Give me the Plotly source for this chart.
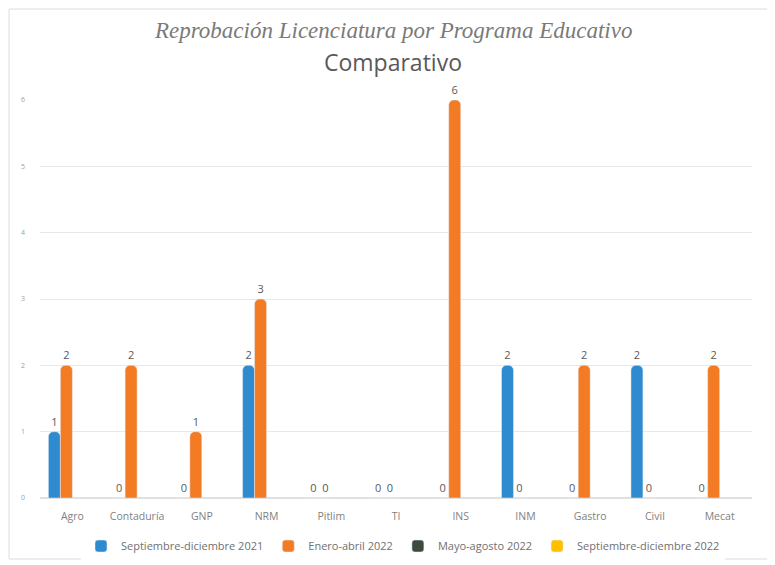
import plotly.graph_objects as go

categories = ["Agro", "Contaduría", "GNP", "NRM", "Pitlim", "TI", "INS", "INM", "Gastro", "Civil", "Mecat"]
series_names = ["Septiembre-diciembre 2021", "Enero-abril 2022", "Mayo-agosto 2022", "Septiembre-diciembre 2022"]
sep_dic_2021 = [1, 0, 0, 2, 0, 0, 0, 2, 0, 2, 0]
ene_abr_2022 = [2, 2, 1, 3, 0, 0, 6, 0, 2, 0, 2]
may_ago_2022 = [None] * 11
sep_dic_2022 = [None] * 11
colors = ["#2E8BCF", "#F27B24", "#3E4A3E", "#FFC000"]

# plot area in figure pixels
L, R, T, B = 32, 744, 92, 490
W, H = R - L, B - T


def px(x):
    return (x - L) / W


def py(y):
    return (B - y) / H


fig = go.Figure()
for name, vals, col in zip(series_names, [sep_dic_2021, ene_abr_2022, may_ago_2022, sep_dic_2022], colors):
    fig.add_trace(go.Bar(
        x=categories, y=vals, name=name,
        marker=dict(color=col),
        text=[("" if v is None else str(v)) for v in vals],
        textposition="outside",
        textfont=dict(size=11, color="#595959", family="Open Sans"),
        cliponaxis=False,
    ))

fig.update_layout(
    width=775, height=565,
    margin=dict(l=L, r=775 - R, t=T, b=565 - B, autoexpand=False),
    paper_bgcolor="white", plot_bgcolor="white",
    barmode="group", bargap=0.26, bargroupgap=0,
    barcornerradius=5,
    font=dict(family="Open Sans", color="#808080"),
    showlegend=True,
    legend=dict(orientation="h", x=px(395), xanchor="center", y=py(538), yanchor="middle",
                font=dict(size=11, color="#707070"), itemwidth=30, traceorder="normal"),
    xaxis=dict(showline=False, showgrid=False, ticks="", tickfont=dict(size=10.5, color="#7f7f7f"),
               ticklabelstandoff=10),
    yaxis=dict(range=[0, 6], dtick=1, showgrid=True, gridcolor="#e8e8e8", gridwidth=1,
               zeroline=True, zerolinecolor="#e0e0e0", showline=False,
               tickfont=dict(size=7, color="#a0a0a0"), ticklabelstandoff=14),
)
fig.add_annotation(text="<i>Reprobación Licenciatura por Programa Educativo</i>",
                   xref="paper", yref="paper", x=px(385), y=py(22),
                   xanchor="center", yanchor="middle", showarrow=False,
                   font=dict(family="Liberation Serif", size=23, color="#7a7a7a"))
fig.add_annotation(text="Comparativo",
                   xref="paper", yref="paper", x=px(385), y=py(54),
                   xanchor="center", yanchor="middle", showarrow=False,
                   font=dict(family="Open Sans", size=23, color="#595959"))
fig.add_shape(type="rect", xref="paper", yref="paper",
              x0=px(1), x1=px(761), y0=py(551), y1=py(1),
              line=dict(color="#dcdcdc", width=1), fillcolor="rgba(0,0,0,0)", layer="below")

fig.write_html("out.html")
